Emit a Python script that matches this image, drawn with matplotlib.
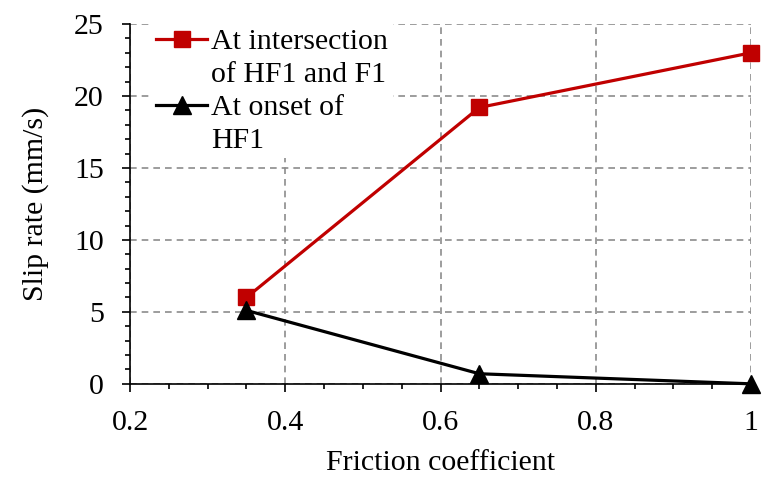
import matplotlib.pyplot as plt
from matplotlib.lines import Line2D
from matplotlib.ticker import MultipleLocator

# data
friction = [0.35, 0.65, 1.0]
slip_intersection = [6.0, 19.2, 23.0]
slip_onset = [5.1, 0.7, 0.0]

plt.rcParams["font.family"] = ["Liberation Serif", "DejaVu Serif"]
FS = 21.5

fig = plt.figure(figsize=(7.68, 4.78), dpi=100)
ax = fig.add_axes([0.1693, 0.197, 0.8087, 0.7528])

l1, = ax.plot(friction, slip_intersection, color="#C00000", lw=2.3, marker="s",
              ms=11.5, clip_on=False, zorder=3)
l2, = ax.plot(friction, slip_onset, color="black", lw=2.3, marker="^",
              ms=13, clip_on=False, zorder=3)

ax.set_xlim(0.2, 1.0)
ax.set_ylim(0, 25)
ax.xaxis.set_major_locator(MultipleLocator(0.2))
ax.xaxis.set_minor_locator(MultipleLocator(0.05))
ax.yaxis.set_major_locator(MultipleLocator(5))
ax.yaxis.set_minor_locator(MultipleLocator(1))
ax.set_xticks([0.2, 0.4, 0.6, 0.8, 1.0])
ax.set_xticklabels(["0.2", "0.4", "0.6", "0.8", "1"])

ax.grid(True, which="major", color="#8c8c8c", ls=(0, (4, 3)), lw=1.2)
for s in ["top", "right"]:
    ax.spines[s].set_visible(False)
for s in ["left", "bottom"]:
    ax.spines[s].set_linewidth(1.2)

ax.tick_params(which="both", direction="out", labelsize=FS, width=1.2)
ax.tick_params(which="major", length=6, pad=13)
ax.tick_params(which="minor", length=3.5)

ax.set_xlabel("Friction coefficient", fontsize=FS, labelpad=10)
ax.set_ylabel("Slip rate (mm/s)", fontsize=FS, labelpad=18)

# two-line labels with the marker next to the first line only
blank = Line2D([], [], color="none")
leg = ax.legend([l1, blank, l2, blank],
                ["At intersection", "of HF1 and F1", "At onset of", "HF1"],
                loc="upper left", bbox_to_anchor=(0.035, 1.0), fontsize=FS,
                frameon=True, facecolor="white", edgecolor="none", framealpha=1,
                handlelength=1.7, handletextpad=0.15, labelspacing=0.2,
                borderpad=0.15, borderaxespad=0.0, fancybox=False)
leg.set_zorder(5)

fig.savefig("out.png", dpi=100)
